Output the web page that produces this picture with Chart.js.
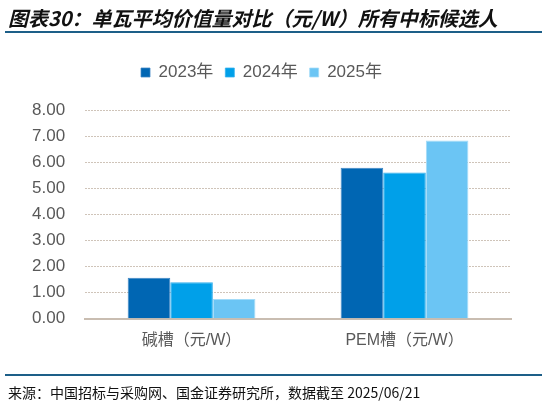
<!DOCTYPE html>
<html>
<head>
<meta charset="utf-8">
<script src="https://cdn.jsdelivr.net/npm/chart.js@4/dist/chart.umd.min.js"></script>
<style>
    body { margin: 0; background: #fff; }
    #wrap { position: relative; width: 547px; height: 404px; overflow: hidden; }
    #title {
        position: absolute; left: 8px; top: 3px;
        font: italic bold 20px "Noto Sans CJK SC", sans-serif;
        color: #111; white-space: nowrap;
    }
    .rule { position: absolute; left: 5px; width: 537px; height: 2px; background: #1d5f88; }
    #footer {
        position: absolute; left: 8px; top: 382px;
        font: 14px "Noto Sans CJK SC", sans-serif;
        color: #111; white-space: nowrap;
    }
    #chart { position: absolute; left: 0; top: 0; }
</style>
</head>
<body>
<div id="wrap">
    <canvas id="chart" width="547" height="404"></canvas>
    <div id="title">图表30：单瓦平均价值量对比（元/W）所有中标候选人</div>
    <div class="rule" style="top:31px"></div>
    <div class="rule" style="top:374px"></div>
    <div id="footer">来源：中国招标与采购网、国金证券研究所，数据截至 2025/06/21</div>
</div>
<script>
// Chart data
const categories = ['碱槽（元/W）', 'PEM槽（元/W）'];
const seriesNames = ['2023年', '2024年', '2025年'];
const values2023 = [1.57, 5.79];
const values2024 = [1.40, 5.61];
const values2025 = [0.76, 6.83];
const yTicks = [0, 1, 2, 3, 4, 5, 6, 7, 8];

const fillColors = ['#0066b3', '#00a0e9', '#6bc5f4'];
const edgeColors = ['#3d86c4', '#33b0ee', '#a3dbf8'];
const textGray = '#595959';

const seriesValues = [values2023, values2024, values2025];

const datasets = seriesNames.map((name, i) => ({
    label: name,
    data: seriesValues[i],
    backgroundColor: fillColors[i],
    borderColor: edgeColors[i],
    borderWidth: { left: 1, right: 1, top: 1, bottom: 0 },
    categoryPercentage: 0.6,
    barPercentage: 1.0
}));

// Extra gap below the legend
const legendGap = {
    id: 'legendGap',
    beforeInit(chart) {
        const fit = chart.legend.fit;
        chart.legend.fit = function() {
            fit.bind(chart.legend)();
            this.height += 19;
        };
    }
};

const ctx = document.getElementById('chart').getContext('2d');
new Chart(ctx, {
    type: 'bar',
    data: { labels: categories, datasets: datasets },
    options: {
        responsive: false,
        animation: false,
        layout: {
            padding: { top: 52, right: 36, bottom: 42, left: 12 }
        },
        scales: {
            x: {
                grid: { display: false, drawTicks: false },
                border: { display: true, color: '#c9bdb1', width: 2 },
                ticks: {
                    color: textGray,
                    padding: 12,
                    font: { family: 'Liberation Sans, "Noto Sans CJK SC"', size: 16 }
                }
            },
            y: {
                min: 0,
                max: 8,
                afterBuildTicks: axis => { axis.ticks = yTicks.map(v => ({ value: v })); },
                grid: {
                    color: '#cfc4b9',
                    lineWidth: 1,
                    drawTicks: false
                },
                border: { display: false, dash: [2, 1] },
                ticks: {
                    color: textGray,
                    padding: 20,
                    font: { family: 'Liberation Sans', size: 17 },
                    callback: value => Number(value).toFixed(2)
                }
            }
        },
        plugins: {
            legend: {
                position: 'top',
                labels: {
                    color: textGray,
                    boxWidth: 9,
                    boxHeight: 9,
                    padding: 12,
                    font: { family: 'Liberation Sans, "Noto Sans CJK SC"', size: 17 }
                }
            },
            tooltip: { enabled: false }
        }
    },
    plugins: [legendGap]
});
</script>
</body>
</html>
